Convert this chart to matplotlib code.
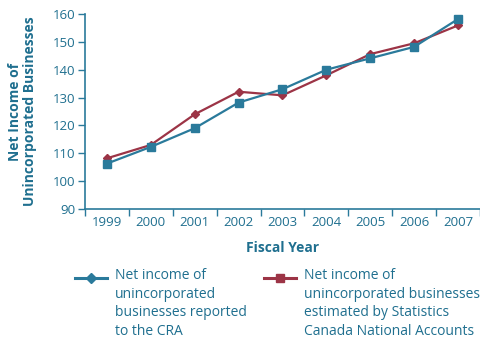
import matplotlib.pyplot as plt
from matplotlib.lines import Line2D

plt.rcParams['font.family'] = ['Open Sans', 'DejaVu Sans']

# data
years = ['1999', '2000', '2001', '2002', '2003', '2004', '2005', '2006', '2007']
cra_income = [106.3, 112.3, 119.0, 128.2, 133.0, 140.0, 144.1, 148.2, 158.2]
statcan_income = [108.2, 113.0, 124.0, 132.1, 130.8, 138.0, 145.6, 149.5, 155.9]
cra_label = 'Net income of\nunincorporated\nbusinesses reported\nto the CRA'
statcan_label = 'Net income of\nunincorporated businesses\nestimated by Statistics\nCanada National Accounts'

blue = '#2a7a9b'
red = '#9c3446'
text_col = '#1f6f8f'

fig = plt.figure(figsize=(4.81, 3.45), dpi=100)
ax = fig.add_axes([85 / 481, 136 / 345, 395 / 481, 195 / 345])

x = list(range(len(years)))
ax.plot(x, statcan_income, color=red, lw=1.6, marker='D', ms=4.5, zorder=3)
ax.plot(x, cra_income, color=blue, lw=1.6, marker='s', ms=5.5, zorder=4)

ax.set_xlim(-0.5, len(years) - 0.5)
ax.set_ylim(90, 160)
ax.set_yticks(range(90, 161, 10))
ax.set_xticks(x)
ax.set_xticklabels(years)
ax.set_xticks([i - 0.5 for i in range(len(years) + 1)], minor=True)
ax.tick_params(axis='x', which='major', length=0, pad=5, labelsize=9.5, labelcolor=text_col)
ax.tick_params(axis='x', which='minor', length=5, width=1, color=blue, direction='out')
ax.tick_params(axis='y', length=5, width=1, color=blue, direction='out', pad=2,
               labelsize=9.5, labelcolor=text_col)

for side in ['top', 'right']:
    ax.spines[side].set_visible(False)
for side in ['left', 'bottom']:
    ax.spines[side].set_color(blue)
    ax.spines[side].set_linewidth(1.2)

ax.set_xlabel('Fiscal Year', fontsize=10, fontweight='bold', color=text_col, labelpad=9)
ax.set_ylabel('Net Income of\nUnincorporated Businesses', fontsize=10, fontweight='bold',
              color=text_col, labelpad=11, linespacing=1.1)


# legend drawn by hand so the text wraps like the original
def legend_entry(x0, color, marker, ms, label):
    y0 = 1 - 278 / 345
    fig.add_artist(Line2D([x0 / 481, (x0 + 32) / 481], [y0, y0], color=color, lw=2.2,
                          transform=fig.transFigure))
    fig.add_artist(Line2D([(x0 + 16) / 481], [y0], color=color, marker=marker, ms=ms,
                          lw=0, transform=fig.transFigure))
    fig.text((x0 + 40) / 481, 1 - 268 / 345, label, ha='left', va='top', fontsize=10,
             color=text_col, linespacing=1.32)


legend_entry(75, blue, 'D', 5, cra_label)
legend_entry(264, red, 's', 6, statcan_label)

fig.savefig('out.png', dpi=100)
